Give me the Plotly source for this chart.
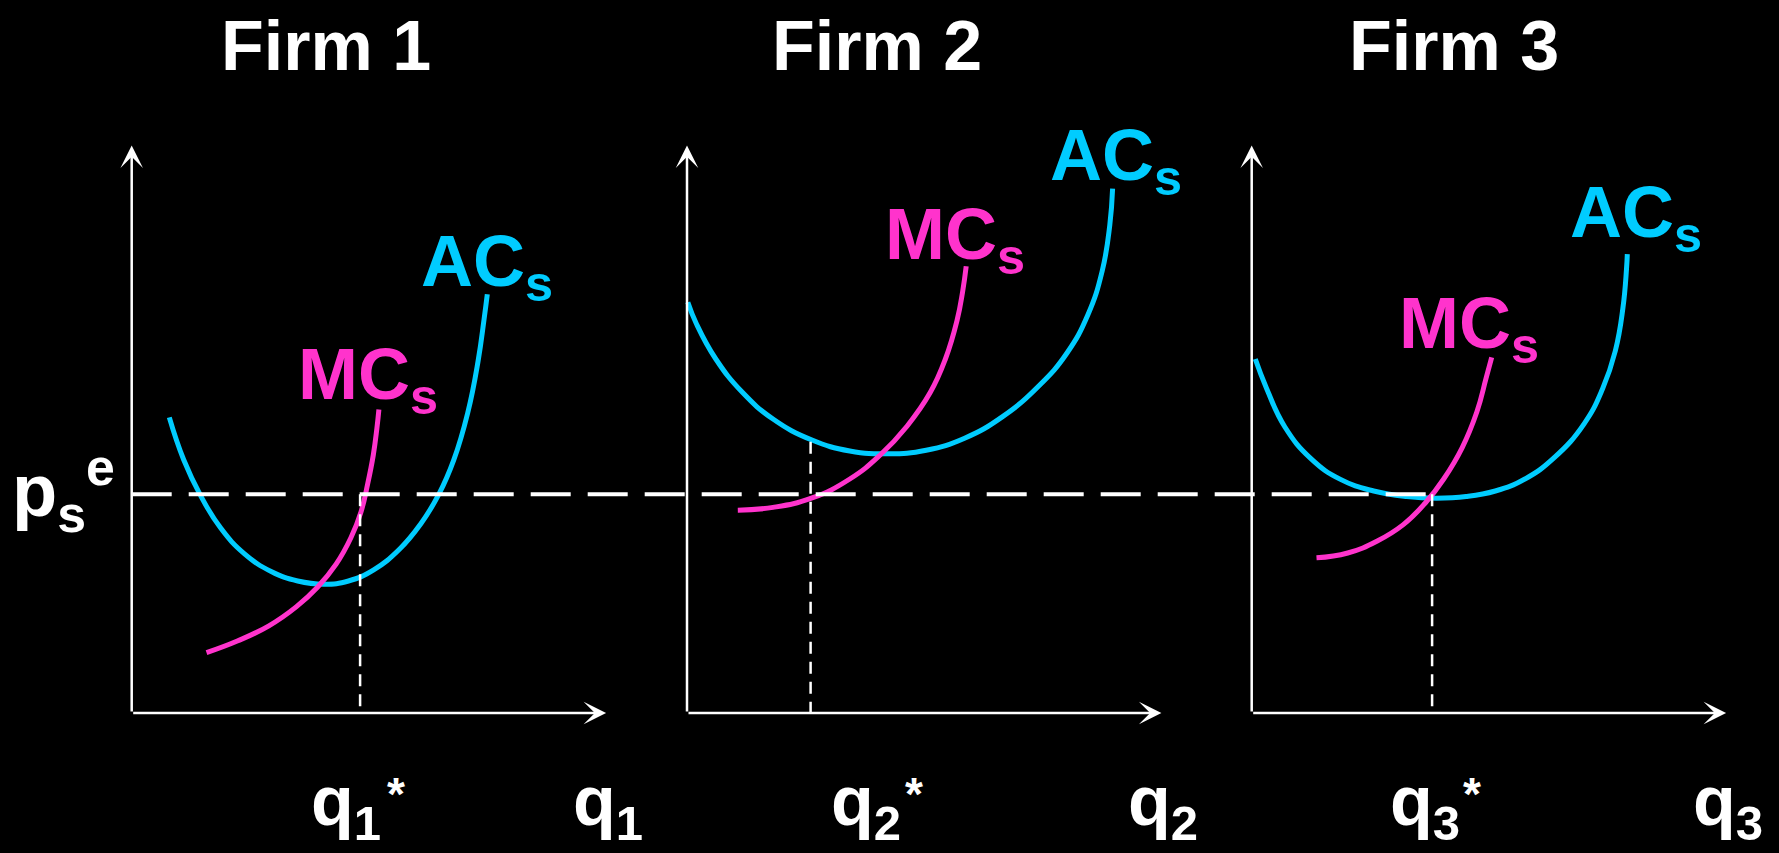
import plotly.graph_objects as go

# ---------------- layout constants (pixels) ----------------
W, H = 1779, 853
UNIT = 40.0                         # pixels per data unit
ORIGIN_PX = [131.7, 687.0, 1251.7]  # x pixel of each firm's price axis
BASE_PX = 713.0                     # y pixel of the quantity axes
PAD = 20.0                          # room kept left of / below each origin

CYAN = "#00CCFF"
MAGENTA = "#FF33CC"
WHITE = "#FFFFFF"
FONT = "Liberation Sans, Arial, sans-serif"

# ---------------- data (quantity q, price p) ----------------
titles = ["Firm 1", "Firm 2", "Firm 3"]
p_e = 5.47                     # equilibrium short-run price
q_axis_end = 11.86             # length of each quantity axis
p_axis_end = 14.19             # length of each price axis

ac1_q = [0.94, 1.30, 1.72, 2.22, 2.82, 3.50, 4.15, 4.81, 5.42, 6.05, 6.70, 7.22, 7.68, 8.05, 8.40, 8.66, 8.81, 8.89]
ac1_p = [7.39, 6.33, 5.44, 4.63, 3.98, 3.53, 3.30, 3.22, 3.30, 3.58, 4.10, 4.72, 5.47, 6.32, 7.50, 8.80, 9.85, 10.47]
mc1_q = [1.87, 2.64, 3.43, 4.12, 4.65, 5.11, 5.48, 5.73, 5.90, 6.04, 6.13, 6.18]
mc1_p = [1.51, 1.80, 2.18, 2.66, 3.15, 3.72, 4.38, 5.02, 5.73, 6.45, 7.12, 7.59]

ac2_q = [0.02, 0.24, 0.72, 1.39, 2.15, 3.11, 4.07, 5.02, 5.98, 6.94, 7.89, 8.80, 9.50, 10.02, 10.38, 10.57, 10.64]
ac2_p = [10.27, 9.72, 8.85, 8.01, 7.35, 6.83, 6.55, 6.48, 6.57, 6.87, 7.41, 8.18, 9.00, 9.95, 11.05, 12.20, 13.11]
mc2_q = [1.27, 2.15, 3.11, 4.07, 4.83, 5.50, 6.08, 6.46, 6.75, 6.89, 6.98]
mc2_p = [5.07, 5.14, 5.37, 5.85, 6.45, 7.17, 8.01, 8.85, 9.81, 10.53, 11.17]

ac3_q = [0.09, 0.37, 0.83, 1.48, 2.22, 3.05, 3.88, 4.62, 5.36, 6.09, 6.83, 7.57, 8.31, 8.77, 9.09, 9.28, 9.37, 9.39]
ac3_p = [8.85, 8.12, 7.15, 6.36, 5.84, 5.55, 5.41, 5.37, 5.41, 5.55, 5.85, 6.39, 7.23, 8.10, 9.05, 10.12, 11.10, 11.47]
mc3_q = [1.62, 2.40, 3.14, 3.79, 4.34, 4.80, 5.26, 5.63, 5.86, 6.00]
mc3_p = [3.88, 4.00, 4.30, 4.71, 5.25, 5.85, 6.63, 7.53, 8.37, 8.89]

q_star = [5.71, 3.09, 4.51]          # optimal output of each firm
q_star_top = [p_e, 6.78, p_e]        # where each dotted guide starts
q_sub = ["1", "2", "3"]

# ---------------- label positions (data units, layout only) ----------------
title_q = [4.85, 4.75, 5.06]
title_p = 17.71
ac_lab = [(7.18, 12.36), (9.03, 15.00), (7.90, 13.57)]
mc_lab = [(4.11, 9.52), (4.90, 13.02), (3.62, 10.80)]
qstar_lab_q = [4.43, 3.55, 3.41]
star_lab_q = [6.32, 5.39, 5.22]
qaxis_lab_q = 10.98

AC = [(ac1_q, ac1_p), (ac2_q, ac2_p), (ac3_q, ac3_p)]
MC = [(mc1_q, mc1_p), (mc2_q, mc2_p), (mc3_q, mc3_p)]


def xid(k):
    return "x" if k == 0 else f"x{k+1}"


fig = go.Figure()

for k in range(3):
    xa = xid(k)
    fig.add_trace(go.Scatter(x=AC[k][0], y=AC[k][1], xaxis=xa, yaxis="y", mode="lines",
                             line=dict(color=CYAN, width=5, shape="spline", smoothing=1.3),
                             hoverinfo="skip", showlegend=False))
    fig.add_trace(go.Scatter(x=MC[k][0], y=MC[k][1], xaxis=xa, yaxis="y", mode="lines",
                             line=dict(color=MAGENTA, width=5, shape="spline", smoothing=1.3),
                             hoverinfo="skip", showlegend=False))
    fig.add_trace(go.Scatter(x=[q_star[k], q_star[k]], y=[q_star_top[k], 0], xaxis=xa, yaxis="y",
                             mode="lines", line=dict(color=WHITE, width=2.5, dash="12px,8px"),
                             hoverinfo="skip", showlegend=False))

# equilibrium price line spanning all three panels (shared overlay axis x4)
offset3 = (ORIGIN_PX[2] - ORIGIN_PX[0]) / UNIT
q_tangent3 = ac3_q[ac3_p.index(min(ac3_p))]
fig.add_trace(go.Scatter(x=[0, offset3 + q_tangent3], y=[p_e, p_e], xaxis="x4", yaxis="y",
                         mode="lines", line=dict(color=WHITE, width=4, dash="40px,17px"),
                         hoverinfo="skip", showlegend=False))

# ---------------- axes ----------------
edges = [o - PAD for o in ORIGIN_PX] + [W]
layout_axes = {}
for k in range(3):
    name = "xaxis" if k == 0 else f"xaxis{k+1}"
    layout_axes[name] = dict(domain=[edges[k] / W, edges[k + 1] / W],
                             range=[-PAD / UNIT, (edges[k + 1] - ORIGIN_PX[k]) / UNIT],
                             visible=False, anchor="y", fixedrange=True)
layout_axes["xaxis4"] = dict(domain=[edges[0] / W, 1], range=[-PAD / UNIT, (W - ORIGIN_PX[0]) / UNIT],
                             visible=False, anchor="y", fixedrange=True)
layout_axes["yaxis"] = dict(domain=[(H - BASE_PX - PAD) / H, 1], range=[-PAD / UNIT, BASE_PX / UNIT],
                            visible=False, anchor="x", fixedrange=True)

# ---------------- annotations ----------------
ann = []
big = dict(family=FONT, size=72, weight="bold")
qfont = dict(family=FONT, size=70, weight="bold", color=WHITE)
for k in range(3):
    xa = xid(k)
    arrow = dict(text="", showarrow=True, arrowhead=3, arrowsize=1.5, arrowwidth=2.5,
                 arrowcolor=WHITE, standoff=0, xref=xa, yref="y", axref=xa, ayref="y")
    ann.append(dict(arrow, x=q_axis_end, y=0, ax=0, ay=0))
    ann.append(dict(arrow, x=0, y=p_axis_end, ax=0, ay=0))
    ann.append(dict(text=titles[k], x=title_q[k], y=title_p, xref=xa, yref="y",
                    xanchor="center", yanchor="top", showarrow=False,
                    font=dict(family=FONT, size=70, weight="bold", color=WHITE)))
    ann.append(dict(text="AC<sub>s</sub>", x=ac_lab[k][0], y=ac_lab[k][1], xref=xa, yref="y",
                    xanchor="left", yanchor="top", showarrow=False, font=dict(big, color=CYAN)))
    ann.append(dict(text="MC<sub>s</sub>", x=mc_lab[k][0], y=mc_lab[k][1], xref=xa, yref="y",
                    xanchor="left", yanchor="top", showarrow=False, font=dict(big, color=MAGENTA)))
    qtxt = f"q<sub>{q_sub[k]}</sub>"
    ann.append(dict(text=qtxt, x=qstar_lab_q[k], y=1 - 759.5 / H, xref=xa, yref="paper",
                    xanchor="left", yanchor="top", showarrow=False, font=qfont))
    ann.append(dict(text="*", x=star_lab_q[k], y=1 - 766 / H, xref=xa, yref="paper",
                    xanchor="left", yanchor="top", showarrow=False,
                    font=dict(family=FONT, size=46, weight="bold", color=WHITE)))
    ann.append(dict(text=qtxt, x=qaxis_lab_q, y=1 - 759.5 / H, xref=xa, yref="paper",
                    xanchor="left", yanchor="top", showarrow=False, font=qfont))

# price label
ann.append(dict(text="p<sub>s</sub><sup>e</sup>", x=10 / W, y=1 - 436 / H, xref="paper", yref="paper",
                xanchor="left", yanchor="top", showarrow=False,
                font=dict(family=FONT, size=74, weight="bold", color=WHITE)))

fig.update_layout(
    width=W, height=H, margin=dict(l=0, r=0, t=0, b=0),
    paper_bgcolor="#000000", plot_bgcolor="rgba(0,0,0,0)",
    showlegend=False, annotations=ann, **layout_axes,
)

fig.write_html("out.html", config={"displayModeBar": False},
               post_script="document.body.style.margin='0';document.body.style.background='#000';")
